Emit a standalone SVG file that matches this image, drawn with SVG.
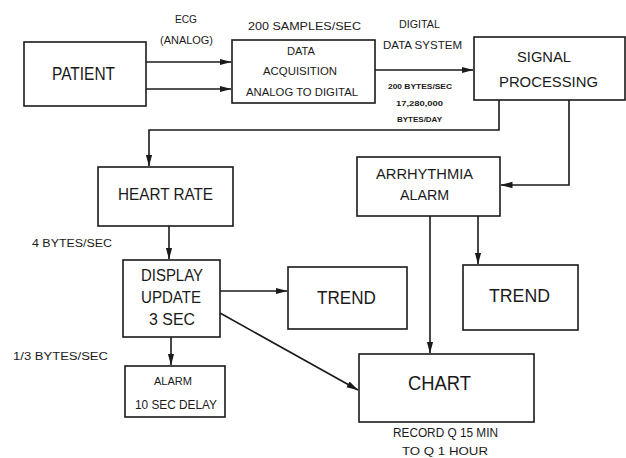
<svg xmlns="http://www.w3.org/2000/svg" width="626" height="458" viewBox="0 0 626 458">
<defs>
<style>
.box{fill:#fff;stroke:#1a1a1a;stroke-width:1.6}
.ln{fill:none;stroke:#1a1a1a;stroke-width:1.6}
text{font-family:"Liberation Sans","DejaVu Sans",Arial,sans-serif;fill:#1a1a1a}
.b{font-weight:bold}
</style>
<marker id="ah" viewBox="0 0 12 8" refX="11.5" refY="4" markerWidth="12" markerHeight="8" markerUnits="userSpaceOnUse" orient="auto">
<path d="M0,0.8 L12,4 L0,7.2 Z" fill="#1a1a1a"/>
</marker>
</defs>
<rect width="626" height="458" fill="#fff"/>

<g id="connectors">
<path class="ln" d="M146,62 H231" marker-end="url(#ah)"/>
<path class="ln" d="M146,89 H231" marker-end="url(#ah)"/>
<path class="ln" d="M375,70 H473" marker-end="url(#ah)"/>
<path class="ln" d="M499,100 V130 H149 V166" marker-end="url(#ah)"/>
<path class="ln" d="M569,100 V185 H501" marker-end="url(#ah)"/>
<path class="ln" d="M169,226 V259" marker-end="url(#ah)"/>
<path class="ln" d="M220,291 H287" marker-end="url(#ah)"/>
<path class="ln" d="M171,337 V365" marker-end="url(#ah)"/>
<path class="ln" d="M220,313 L358,390" marker-end="url(#ah)"/>
<path class="ln" d="M478,216 V264" marker-end="url(#ah)"/>
<path class="ln" d="M430,216 V353" marker-end="url(#ah)"/>
</g>

<g id="labels">
<text x="175" y="23" font-size="11" textLength="22" lengthAdjust="spacingAndGlyphs">ECG</text>
<text x="160" y="44" font-size="11" textLength="53" lengthAdjust="spacingAndGlyphs">(ANALOG)</text>
<text x="248" y="30" font-size="11" textLength="113" lengthAdjust="spacingAndGlyphs">200 SAMPLES/SEC</text>
<text x="399" y="28" font-size="11" textLength="41" lengthAdjust="spacingAndGlyphs">DIGITAL</text>
<text x="383" y="49" font-size="11" textLength="79" lengthAdjust="spacingAndGlyphs">DATA SYSTEM</text>
<text class="b" x="388" y="89" font-size="8" textLength="64" lengthAdjust="spacingAndGlyphs">200 BYTES/SEC</text>
<text class="b" x="396" y="106" font-size="8" textLength="47" lengthAdjust="spacingAndGlyphs">17,280,000</text>
<text class="b" x="397" y="122" font-size="8" textLength="45" lengthAdjust="spacingAndGlyphs">BYTES/DAY</text>
<text x="32" y="247" font-size="10" textLength="80" lengthAdjust="spacingAndGlyphs">4 BYTES/SEC</text>
<text x="13" y="360" font-size="10" textLength="95" lengthAdjust="spacingAndGlyphs">1/3 BYTES/SEC</text>
<text x="393" y="437" font-size="12" textLength="105" lengthAdjust="spacingAndGlyphs">RECORD Q 15 MIN</text>
<text x="402" y="455" font-size="11" textLength="86" lengthAdjust="spacingAndGlyphs">TO Q 1 HOUR</text>
</g>

<g id="patient">
<rect class="box" x="24" y="42" width="122" height="64"/>
<text x="52" y="80" font-size="18" textLength="63" lengthAdjust="spacingAndGlyphs">PATIENT</text>
</g>

<g id="data-acquisition">
<rect class="box" x="232" y="40" width="143" height="63"/>
<text x="287" y="55" font-size="11" textLength="28" lengthAdjust="spacingAndGlyphs">DATA</text>
<text x="263" y="75" font-size="11" textLength="74" lengthAdjust="spacingAndGlyphs">ACQUISITION</text>
<text x="246" y="96" font-size="11" textLength="112" lengthAdjust="spacingAndGlyphs">ANALOG TO DIGITAL</text>
</g>

<g id="signal-processing">
<rect class="box" x="474" y="37" width="151" height="63"/>
<text x="517" y="62" font-size="15" textLength="54" lengthAdjust="spacingAndGlyphs">SIGNAL</text>
<text x="499" y="87" font-size="15" textLength="99" lengthAdjust="spacingAndGlyphs">PROCESSING</text>
</g>

<g id="heart-rate">
<rect class="box" x="98" y="167" width="135" height="59"/>
<text x="118" y="200" font-size="16" textLength="95" lengthAdjust="spacingAndGlyphs">HEART RATE</text>
</g>

<g id="arrhythmia-alarm">
<rect class="box" x="357" y="157" width="143" height="59"/>
<text x="376" y="179" font-size="15" textLength="97" lengthAdjust="spacingAndGlyphs">ARRHYTHMIA</text>
<text x="400" y="200" font-size="15" textLength="49" lengthAdjust="spacingAndGlyphs">ALARM</text>
</g>

<g id="display-update">
<rect class="box" x="123" y="260" width="97" height="77"/>
<text x="141" y="281" font-size="16" textLength="62" lengthAdjust="spacingAndGlyphs">DISPLAY</text>
<text x="141" y="303" font-size="16" textLength="60" lengthAdjust="spacingAndGlyphs">UPDATE</text>
<text x="149" y="325" font-size="16" textLength="46" lengthAdjust="spacingAndGlyphs">3 SEC</text>
</g>

<g id="trend-1">
<rect class="box" x="288" y="267" width="119" height="62"/>
<text x="317" y="304" font-size="19" textLength="59" lengthAdjust="spacingAndGlyphs">TREND</text>
</g>

<g id="trend-2">
<rect class="box" x="463" y="265" width="115" height="65"/>
<text x="489" y="302" font-size="19" textLength="61" lengthAdjust="spacingAndGlyphs">TREND</text>
</g>

<g id="alarm">
<rect class="box" x="125" y="366" width="100" height="51"/>
<text x="154" y="385" font-size="11" textLength="38" lengthAdjust="spacingAndGlyphs">ALARM</text>
<text x="135" y="409" font-size="12" textLength="82" lengthAdjust="spacingAndGlyphs">10 SEC DELAY</text>
</g>

<g id="chart">
<rect class="box" x="359" y="354" width="175" height="68"/>
<text x="408" y="390" font-size="20" textLength="63" lengthAdjust="spacingAndGlyphs">CHART</text>
</g>
</svg>
